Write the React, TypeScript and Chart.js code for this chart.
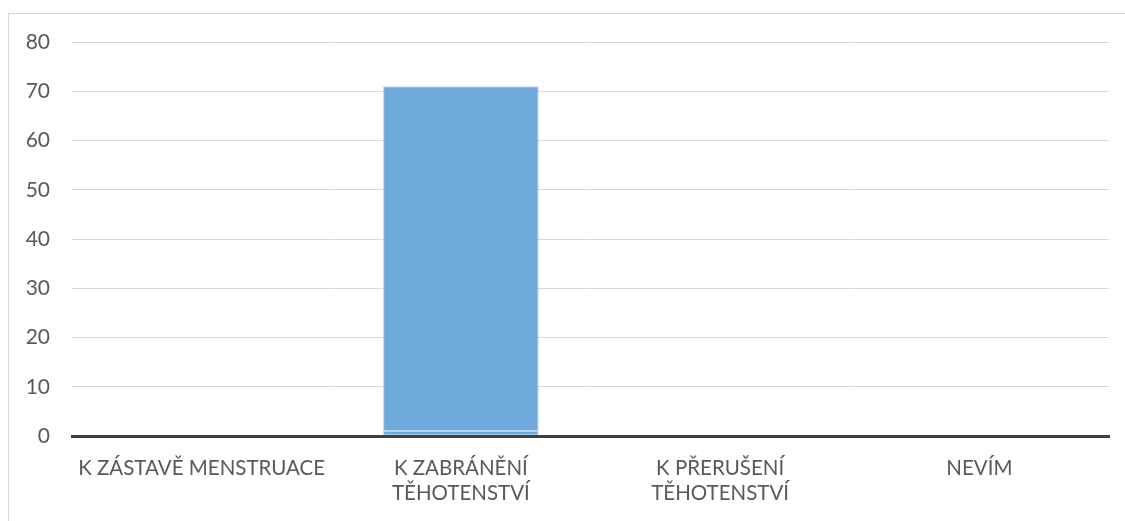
import React, { useEffect, useRef } from "react";
import { Chart, registerables } from "chart.js";

Chart.register(...registerables);

const categories: (string | string[])[] = [
  "K ZÁSTAVĚ MENSTRUACE",
  ["K ZABRÁNĚNÍ", "TĚHOTENSTVÍ"],
  ["K PŘERUŠENÍ", "TĚHOTENSTVÍ"],
  "NEVÍM",
];
const seriesBase = [0, 1, 0, 0];
const seriesMain = [0, 70, 0, 0];
const yMax = 80;
const yStep = 10;

const FONT = "Lato, 'Open Sans', sans-serif";
const TEXT = "#595959";
const BAR = "#70A9DC";
const BAR_BORDER = "#B8D5EF";

export default function App() {
  const ref = useRef<HTMLCanvasElement | null>(null);
  useEffect(() => {
    if (!ref.current) return;
    const chart = new Chart(ref.current, {
      type: "bar",
      data: {
        labels: categories,
        datasets: [
          {
            data: seriesBase,
            backgroundColor: BAR,
            borderColor: BAR_BORDER,
            borderWidth: 1,
            borderSkipped: false,
            categoryPercentage: 0.6,
            barPercentage: 1,
          },
          {
            data: seriesMain,
            backgroundColor: BAR,
            borderColor: BAR_BORDER,
            borderWidth: 1,
            borderSkipped: false,
            categoryPercentage: 0.6,
            barPercentage: 1,
          },
        ],
      },
      options: {
        animation: false,
        responsive: false,
        maintainAspectRatio: false,
        layout: { padding: { top: 42, right: 16, bottom: 0, left: 0 } },
        plugins: { legend: { display: false }, tooltip: { enabled: false } },
        scales: {
          x: {
            stacked: true,
            grid: { display: false, drawTicks: false },
            border: { display: true, color: "#404040", width: 3, z: 2 },
            ticks: {
              color: TEXT,
              font: { family: FONT, size: 20.5 },
              padding: 20,
              maxRotation: 0,
              autoSkip: false,
            },
            afterFit: (s: any) => {
              s.height = 85;
            },
          },
          y: {
            stacked: true,
            min: 0,
            max: yMax,
            grid: { color: "#D9D9D9", lineWidth: 1, drawTicks: false },
            border: { display: false },
            ticks: {
              stepSize: yStep,
              color: TEXT,
              font: { family: FONT, size: 21 },
              padding: 22,
            },
            afterFit: (s: any) => {
              s.width = 72;
            },
          },
        },
      },
    });
    return () => chart.destroy();
  }, []);
  return (
    <div style={{ position: "fixed", left: 0, top: 0, width: 1125, height: 521, background: "#fff" }}>
      <div
        style={{
          position: "absolute",
          left: 8,
          top: 13,
          right: 0,
          bottom: 0,
          borderLeft: "1px solid #D9D9D9",
          borderTop: "1px solid #D9D9D9",
        }}
      />
      <canvas ref={ref} width={1125} height={521} style={{ position: "absolute", left: 0, top: 0 }} />
    </div>
  );
}
